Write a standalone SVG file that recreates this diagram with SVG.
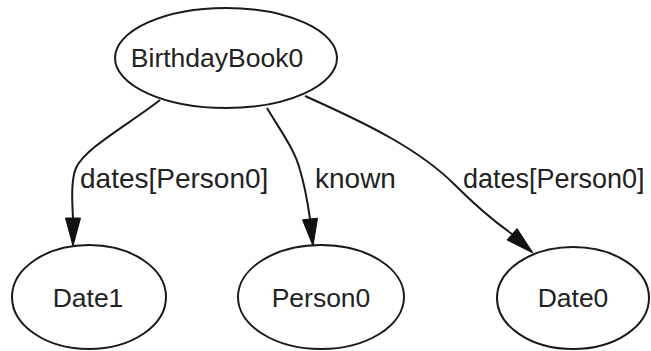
<svg xmlns="http://www.w3.org/2000/svg" width="651" height="351" viewBox="0 0 651 351">
<style>
.node ellipse{fill:#fff;stroke:#1a1a1a;stroke-width:2}
.node text{font-family:"Liberation Sans",Arial,sans-serif;font-size:26.5px;fill:#222;text-anchor:middle}
.edge path{fill:none;stroke:#1a1a1a;stroke-width:2}
.edge polygon{fill:#111;stroke:#111;stroke-width:1}
.lbl{font-family:"Liberation Sans",Arial,sans-serif;font-size:28px;fill:#222}
</style>
<rect width="651" height="351" fill="#fff"/>
<g id="edges">
<g class="edge" id="e1">
<path d="M160,100 C128,125 85,148 76,168 C71,180 72,200 73,218"/>
<polygon points="73,246 65.5,218 80.5,218"/>
<text class="lbl" x="80" y="188">dates[Person0]</text>
</g>
<g class="edge" id="e2">
<path d="M267,108 C280,130 295,150 300,170 C306,190 308,205 310,219"/>
<polygon points="313,246 302.5,219.8 317.5,218.2"/>
<text class="lbl" x="315" y="188">known</text>
</g>
<g class="edge" id="e3">
<path d="M305,96 C370,125 420,150 455,185 C475,205 495,222 512,234"/>
<polygon points="533,253 507,240 517,228.5"/>
<text class="lbl" x="463" y="188" style="font-size:27px">dates[Person0]</text>
</g>
</g>
<g class="node" id="BirthdayBook0">
<ellipse cx="226" cy="58" rx="111" ry="50"/>
<text x="217" y="67">BirthdayBook0</text>
</g>
<g class="node" id="Date1">
<ellipse cx="89" cy="297" rx="77" ry="52"/>
<text x="88" y="307">Date1</text>
</g>
<g class="node" id="Person0">
<ellipse cx="321" cy="297" rx="83" ry="52"/>
<text x="321" y="307">Person0</text>
</g>
<g class="node" id="Date0">
<ellipse cx="573" cy="298" rx="76" ry="51"/>
<text x="573" y="307">Date0</text>
</g>
</svg>
